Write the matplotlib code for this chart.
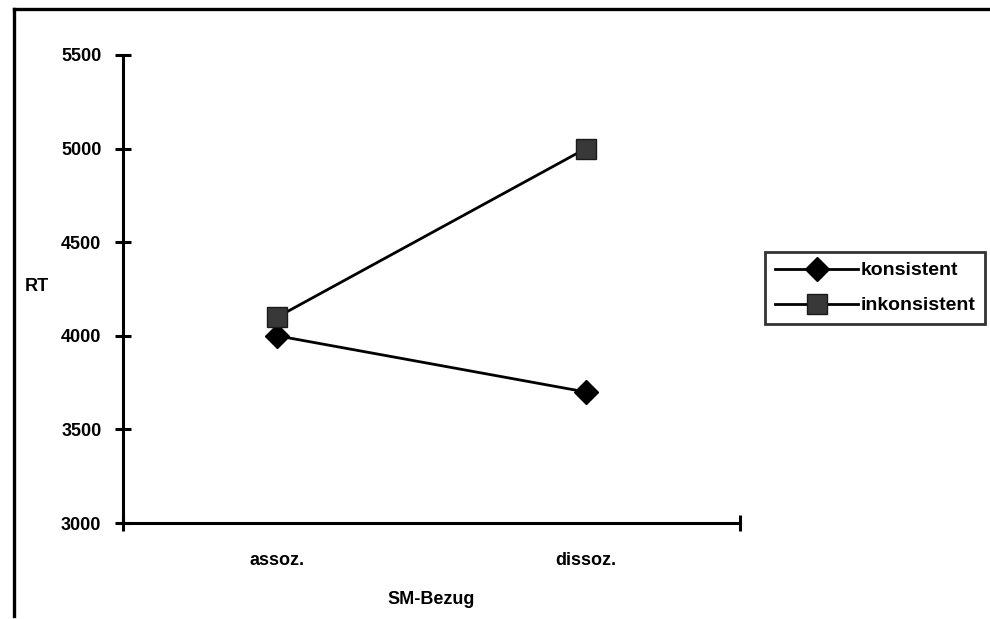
import matplotlib
matplotlib.use("Agg")
import matplotlib.pyplot as plt
from matplotlib.lines import Line2D

categories = ["assoz.", "dissoz."]
series_names = ["konsistent", "inkonsistent"]
konsistent = [4000, 3700]
inkonsistent = [4100, 5000]
y_ticks = [3000, 3500, 4000, 4500, 5000, 5500]

plt.rcParams['font.family'] = ['Liberation Sans', 'DejaVu Sans']

W, H = 990, 619
fig = plt.figure(figsize=(W / 100, H / 100), dpi=100)
ax = fig.add_axes([123 / W, 1 - 523 / H, (740 - 123) / W, (523 - 55) / H])

xpos = [0.5, 1.5]
ax.plot(xpos, konsistent, color='black', lw=2.0, marker='D', markersize=12,
        markerfacecolor='black', markeredgecolor='black', label=series_names[0])
ax.plot(xpos, inkonsistent, color='black', lw=2.0, marker='s', markersize=15,
        markerfacecolor='#383838', markeredgecolor='#1a1a1a', label=series_names[1])

ax.set_xlim(0, 2)
ax.set_ylim(3000, 5500)
ax.set_yticks(y_ticks)
ax.set_yticklabels([str(v) for v in y_ticks], fontsize=13, fontweight='bold')
ax.set_xticks([0, 2])
ax.set_xticklabels(['', ''])
ax.set_xticks(xpos, minor=True)
ax.set_xticklabels(categories, minor=True, fontsize=13, fontweight='bold')
ax.tick_params(axis='x', which='minor', length=0, pad=21)
ax.tick_params(axis='x', which='major', direction='inout', length=11, width=2.2)
ax.tick_params(axis='y', direction='inout', length=11, width=2.2, pad=10)

for s in ['top', 'right']:
    ax.spines[s].set_visible(False)
for s in ['left', 'bottom']:
    ax.spines[s].set_linewidth(2.2)

ax.set_xlabel("SM-Bezug", fontsize=13, fontweight='bold', labelpad=16)
fig.text(25 / W, 1 - 286 / H, "RT", fontsize=13, fontweight='bold', va='center', ha='left')

leg = ax.legend(loc='upper left', bbox_to_anchor=(765 / W, 1 - 252 / H),
                bbox_transform=fig.transFigure, frameon=True, fancybox=False,
                edgecolor='black', fontsize=14, handlelength=4.3, handletextpad=0.1,
                borderpad=0.5, labelspacing=0.9, borderaxespad=0)
leg.get_frame().set_linewidth(2.0)
for t in leg.get_texts():
    t.set_fontweight('bold')

fig.add_artist(Line2D([14 / W, 1.0], [1 - 9 / H, 1 - 9 / H], color='black', lw=2.4,
                      transform=fig.transFigure))
fig.add_artist(Line2D([14 / W, 14 / W], [1 - 9 / H, 1 - 616 / H], color='black', lw=2.4,
                      transform=fig.transFigure))

fig.savefig("out.png", dpi=100)
